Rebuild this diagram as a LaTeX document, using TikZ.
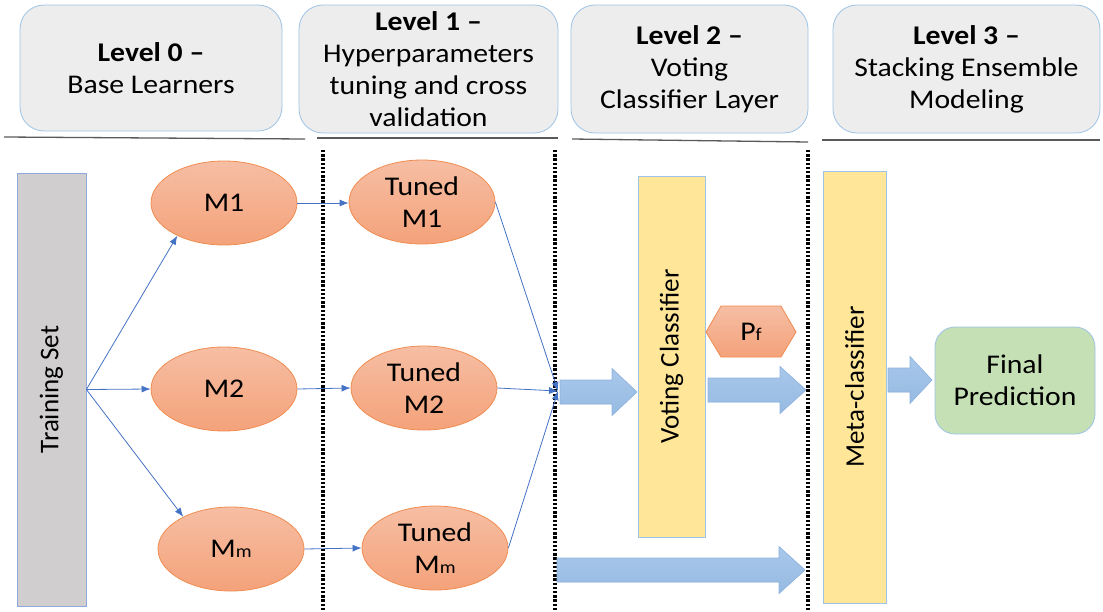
\documentclass[tikz,border=0pt]{standalone}
\usepackage{fontspec}
\setmainfont[FakeStretch=1.1]{Carlito}
\newfontfamily\uprightlabel{Carlito}
\usetikzlibrary{arrows.meta,shapes.geometric}

\definecolor{hdrfill}{RGB}{237,237,237}
\definecolor{hdrline}{RGB}{157,195,230}
\definecolor{rulegray}{RGB}{90,90,90}
\definecolor{tsfill}{RGB}{208,206,206}
\definecolor{tsline}{RGB}{143,170,220}
\definecolor{ellA}{RGB}{246,190,164}
\definecolor{ellB}{RGB}{244,162,122}
\definecolor{ellline}{RGB}{240,140,80}
\definecolor{link}{RGB}{68,114,196}
\definecolor{vcfill}{RGB}{255,230,153}
\definecolor{barA}{RGB}{168,200,234}
\definecolor{barB}{RGB}{150,186,226}
\definecolor{barline}{RGB}{143,178,224}
\definecolor{finfill}{RGB}{197,224,180}

% fat block arrow: x-start, x-end, y-centre, x where the head begins
\newcommand\fatarrow[4]{%
  \path[fatbar] (#1,#3-12) -- (#4,#3-12) -- (#4,#3-23.5) -- (#2,#3)
    -- (#4,#3+23.5) -- (#4,#3+12) -- (#1,#3+12) -- cycle;}

\newcommand\sm[1]{{\fontsize{18}{18}\selectfont #1}}
% vertical label set with the unstretched face
\newcommand\vlabel[1]{\rotatebox{90}{\uprightlabel #1}}

\tikzset{
  txt/.style={font=\fontsize{27}{32}\selectfont, align=center, text=black},
  hdr/.style={txt, draw=hdrline, fill=hdrfill, rounded corners=24pt, line width=0.8pt, inner sep=0pt},
  hrule/.style={draw=rulegray, line width=1.3pt},
  sep/.style={draw=black, line width=3.5pt, dash pattern=on 2.4pt off 1.8pt},
  model/.style={txt, ellipse, draw=ellline, line width=0.8pt, top color=ellA, bottom color=ellB,
    minimum width=146pt, minimum height=84pt, inner sep=0pt},
  link/.style={draw=link, line width=0.8pt, -{Latex[length=9pt,width=7pt]}},
  bar/.style={txt, draw=hdrline, line width=0.8pt, inner sep=0pt},
  fatbar/.style={fill=barB, draw=barline, line width=0.6pt, top color=barA, bottom color=barB},
}

\begin{document}
\begin{tikzpicture}[x=1pt,y=-1pt]
\useasboundingbox (0,0) rectangle (1103,611);

% level headers
\node[hdr, minimum width=262pt, minimum height=126pt] (h0) at (151,68)
  {\textbf{Level 0 –}\\Base Learners};
\node[hdr, minimum width=259pt, minimum height=128pt] (h1) at (428.5,69)
  {\textbf{Level 1 –}\\Hyperparameters\\tuning and cross\\validation};
\node[hdr, minimum width=237pt, minimum height=128pt] (h2) at (689.5,69)
  {\textbf{Level 2 –}\\Voting\\Classifier Layer};
\node[hdr, minimum width=267pt, minimum height=128pt] (h3) at (966.5,69)
  {\textbf{Level 3 –}\\Stacking Ensemble\\Modeling};

% rules under the headers
\draw[hrule] (4,137) -- (305,139);
\draw[hrule] (317,138) -- (558,138);
\draw[hrule] (572,139) -- (808,142);
\draw[hrule] (822,140) -- (1100,140);

% level separators
\draw[sep] (323,150) -- (323,611);
\draw[sep] (555,150) -- (555,611);
\draw[sep] (808,150) -- (808,611);

% training data
\node[txt, draw=tsline, fill=tsfill, line width=0.8pt, minimum width=69pt, minimum height=433pt, inner sep=0pt]
  (ts) at (51.5,389.5) {\vlabel{Training Set}};

% base learners
\node[model] (m1) at (224,203) {M1};
\node[model] (m2) at (224,389) {M2};
\node[model] (mm) at (231,549) {M\sm{m}};

% tuned learners
\node[model] (t1) at (422,202) {Tuned\\M1};
\node[model] (t2) at (424,388) {Tuned\\M2};
\node[model] (tm) at (435,548) {Tuned\\M\sm{m}};

\coordinate (conv) at (558,391);

\draw[link] (ts.east) -- (m1.215);
\draw[link] (ts.east) -- (m2.west);
\draw[link] (ts.east) -- (mm.146);
\draw[link] (m1.east) -- (t1.west |- m1.east);
\draw[link] (m2.east) -- (t2.west);
\draw[link] (mm.east) -- (tm.west);
\draw[link] (t1.east) -- (conv);
\draw[link] (t2.east) -- (conv);
\draw[link] (tm.east) -- (conv);

% voting classifier and its output
\node[bar, fill=vcfill, minimum width=67pt, minimum height=361pt] (vc) at (671.5,356.5)
  {\vlabel{Voting Classifier}};
\path[draw=ellline, line width=0.8pt, top color=ellA, bottom color=ellB]
  (706,332) -- (721,306) -- (781,306) -- (796,332) -- (781,357) -- (721,357) -- cycle;
\node[txt] (pf) at (751,332) {P\sm{f}};

% meta classifier and final prediction
\node[bar, fill=vcfill, minimum width=63pt, minimum height=432pt] (meta) at (854.5,387)
  {\vlabel{Meta-classifier}};
\node[txt, draw=hdrline, fill=finfill, line width=0.8pt, rounded corners=20pt,
  minimum width=160pt, minimum height=107pt, inner sep=0pt] (fin) at (1015,380.5)
  {Final\\Prediction};

% block arrows
\fatarrow{560}{637}{392}{612}
\fatarrow{708}{806}{390}{780}
\fatarrow{557}{805}{570}{779}
\fatarrow{888}{932}{380}{910}

\end{tikzpicture}
\end{document}
